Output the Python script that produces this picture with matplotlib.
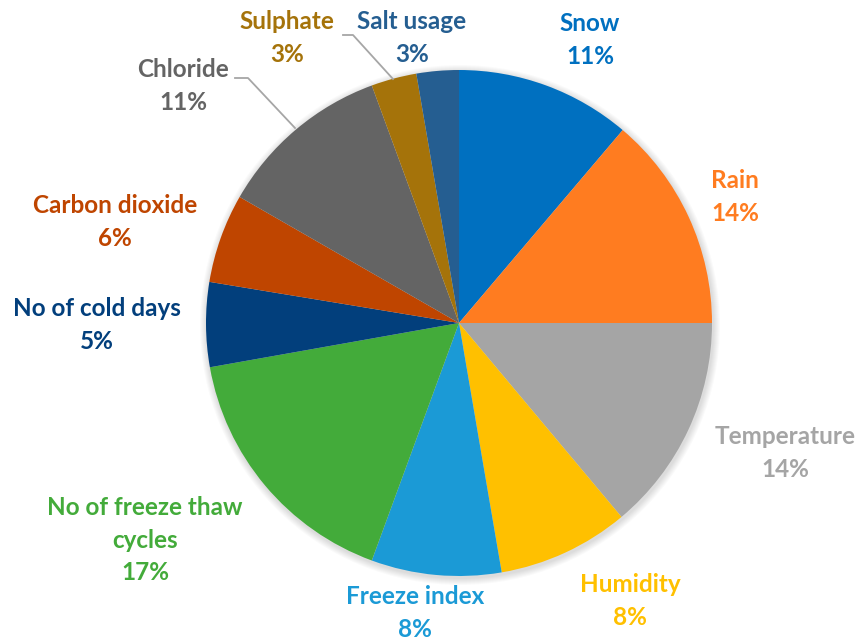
import numpy as np
import matplotlib.pyplot as plt
from matplotlib.patches import Circle

# datos del grafico (sentido horario desde las 12)
etiquetas = ["Snow", "Rain", "Temperature", "Humidity", "Freeze index",
             "No of freeze thaw\ncycles", "No of cold days", "Carbon dioxide",
             "Chloride", "Sulphate", "Salt usage"]
valores = [11.2, 13.8, 13.9, 8.4, 8.3, 16.6, 5.4, 5.7, 11.1, 2.9, 2.7]
colores = ["#0070C0", "#FF7C20", "#A5A5A5", "#FFC000", "#1B9AD6", "#43AB3A",
           "#023F7C", "#BF4500", "#646464", "#A5730A", "#255E91"]

W, H = 857, 641
fig = plt.figure(figsize=(W / 100, H / 100), dpi=100)
ax = fig.add_axes([0, 0, 1, 1])

def py(y):
    # pasar de pixel (desde arriba) a coordenada del eje
    return H - y

cx, cy, r = 459, py(323), 253

# sombra suave alrededor del pastel
for k in range(1, 8):
    ax.add_patch(Circle((cx + 1, cy - 2), r + k, color="#000000", alpha=0.018, lw=0, zorder=0))

ax.pie(valores, colors=colores, startangle=90, counterclock=False,
       center=(cx, cy), radius=r, wedgeprops=dict(linewidth=0), frame=True)
ax.set_xlim(0, W)
ax.set_ylim(0, H)
ax.set_aspect("equal")
ax.axis("off")

# posiciones de las etiquetas (pixeles)
pos_etiquetas = [(590, 40), (735, 197), (785, 453), (630, 601), (415, 613),
                 (145, 540), (97, 325), (115, 222), (183, 86), (287, 38), (412, 38)]

for nombre, v, c, (x, y) in zip(etiquetas, valores, colores, pos_etiquetas):
    ax.text(x, py(y), f"{nombre}\n{round(v):.0f}%", color=c, ha="center", va="center",
            fontsize=17.5, fontweight="bold", family="Lato", linespacing=1.5)

# lineas guia
ax.plot([235, 248, 295], [py(78), py(78), py(128)], color="#A6A6A6", lw=1.3)
ax.plot([343, 353, 393], [py(35), py(35), py(79)], color="#A6A6A6", lw=1.3)

fig.savefig("out.png", dpi=100)
